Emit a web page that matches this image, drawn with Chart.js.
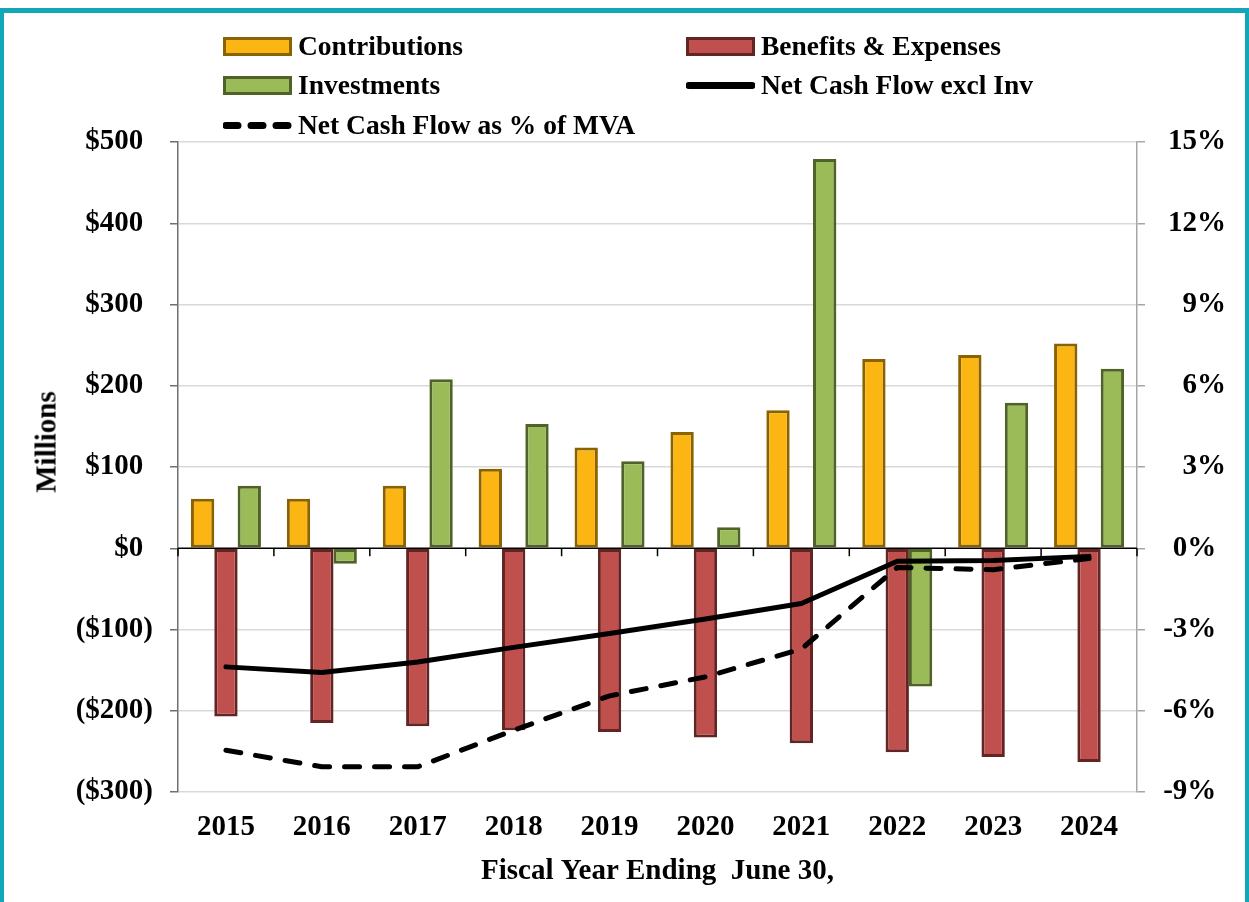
<!DOCTYPE html>
<html>
<head>
<meta charset="utf-8">
<script src="https://cdn.jsdelivr.net/npm/chart.js@4.4.1/dist/chart.umd.min.js"></script>
<style>
  html, body { margin: 0; padding: 0; background: #fff; }
  body { width: 1249px; height: 902px; position: relative; overflow: hidden; font-family: 'Liberation Serif', 'Times New Roman', serif; }
  #c { position: absolute; left: 0; top: 0; }
  #frame { position: absolute; left: 0; top: 8px; width: 1249px; height: 894px; box-sizing: border-box;
           border-top: 5px solid #11a7b8; border-left: 4px solid #11a7b8; border-right: 4px solid #11a7b8; pointer-events: none; }
  .lg { position: absolute; display: flex; align-items: center; font-weight: bold; font-size: 27.5px; color: #000; white-space: nowrap; height: 34px; }
  .lg svg { margin-right: 6px; flex: none; }
  #ytitle { position: absolute; left: 46px; top: 442px; transform: translate(-50%, -50%) rotate(-90deg);
            font-weight: bold; font-size: 29px; white-space: nowrap; }
</style>
</head>
<body>
<canvas id="c" width="1249" height="902"></canvas>
<div id="ytitle">Millions</div>
<div id="legend"></div>
<div id="frame"></div>
<script>
// ---- data ----
const years = ['2015', '2016', '2017', '2018', '2019', '2020', '2021', '2022', '2023', '2024'];
const contributions = [61, 61, 77, 98, 124, 143, 170, 233, 238, 252];
const benefits = [-207, -215, -219, -224, -226, -233, -240, -251, -257, -263];
const investments = [77, -19, 208, 153, 107, 26, 479, -170, 179, 221];
const netCashFlow = [-146, -153, -140, -122, -105, -87, -68, -16, -15, -10];
const netPctMVA = [-7.46, -8.07, -8.07, -6.72, -5.45, -4.75, -3.72, -0.71, -0.79, -0.38];

const leftTicks = { min: -300, max: 500, step: 100 };
const rightTicks = { min: -9, max: 15, step: 3 };

const seriesLabels = ['Contributions', 'Benefits & Expenses', 'Investments', 'Net Cash Flow excl Inv', 'Net Cash Flow as % of MVA'];

const FONT = "'Liberation Serif', 'Times New Roman', serif";
Chart.defaults.font.family = FONT;
Chart.defaults.font.weight = 'bold';
Chart.defaults.color = '#000';

const zeroLine = {
  id: 'zeroLine',
  afterDatasetsDraw(chart) {
    const { ctx, chartArea, scales } = chart;
    const y0 = scales.y.getPixelForValue(0);
    const n = chart.data.labels.length;
    ctx.save();
    ctx.strokeStyle = '#000';
    ctx.lineWidth = 1.5;
    ctx.beginPath();
    ctx.moveTo(chartArea.left, y0);
    ctx.lineTo(chartArea.right, y0);
    for (let i = 0; i <= n; i++) {
      const xx = chartArea.left + i * chartArea.width / n;
      ctx.moveTo(xx, y0);
      ctx.lineTo(xx, y0 + 8);
    }
    ctx.stroke();
    ctx.restore();
  }
};

const cfg = {
  data: {
    labels: years,
    datasets: [
      { type: 'bar', label: seriesLabels[0], data: contributions, backgroundColor: '#fbb614', borderColor: '#8a6200', borderWidth: 3, borderSkipped: false, yAxisID: 'y', order: 1 },
      { type: 'bar', label: seriesLabels[1], data: benefits, backgroundColor: '#c0504d', borderColor: '#632523', borderWidth: 3, borderSkipped: false, yAxisID: 'y', order: 1 },
      { type: 'bar', label: seriesLabels[2], data: investments, backgroundColor: '#9bbb59', borderColor: '#4f6228', borderWidth: 3, borderSkipped: false, yAxisID: 'y', order: 1 },
      { type: 'line', label: seriesLabels[3], data: netCashFlow, borderColor: '#000', borderWidth: 5, pointRadius: 0, tension: 0, borderCapStyle: 'round', borderJoinStyle: 'round', yAxisID: 'y', order: 0 },
      { type: 'line', label: seriesLabels[4], data: netPctMVA, borderColor: '#000', borderWidth: 5, borderDash: [15, 15], borderCapStyle: 'round', borderJoinStyle: 'round', pointRadius: 0, tension: 0, yAxisID: 'y1', order: 0 }
    ]
  },
  options: {
    responsive: false,
    animation: false,
    events: [],
    layout: { padding: { top: 142, left: 0, right: 23, bottom: 0 } },
    datasets: { bar: { categoryPercentage: 0.73, barPercentage: 1.0 } },
    plugins: { legend: { display: false }, tooltip: { enabled: false } },
    scales: {
      x: {
        type: 'category',
        offset: true,
        grid: { display: false },
        border: { display: false },
        ticks: { font: { size: 29, weight: 'bold' }, padding: 10, maxRotation: 0, autoSkip: false },
        title: { display: true, text: 'Fiscal Year Ending  June 30,', font: { size: 29, weight: 'bold' }, padding: { top: 0, bottom: 13 } },
        afterFit(s) { s.height = 110; }
      },
      y: {
        type: 'linear', position: 'left',
        min: leftTicks.min, max: leftTicks.max,
        grid: {
          color: (c) => (c.tick && c.tick.value === 0) ? 'rgba(0,0,0,0)' : '#d9d9d9',
          lineWidth: 1.5,
          tickColor: '#6f6f6f', tickLength: 8
        },
        border: { color: '#6f6f6f', width: 1.5 },
        ticks: {
          stepSize: leftTicks.step, padding: 17,
          font: { size: 29, weight: 'bold' },
          callback: (v) => v < 0 ? '($' + Math.abs(v) + ')' : '$' + v + '\u2004'
        },
        afterFit(s) { s.width = 178; }
      },
      y1: {
        type: 'linear', position: 'right',
        min: rightTicks.min, max: rightTicks.max,
        grid: { drawOnChartArea: false, color: '#a6a6a6', tickColor: '#a6a6a6', tickLength: 8, lineWidth: 1.5 },
        border: { color: '#a6a6a6', width: 1.5 },
        ticks: {
          stepSize: rightTicks.step, padding: 14, crossAlign: 'far',
          font: { size: 29, weight: 'bold' },
          callback: (v) => v > 0 ? v + '%' : v + '%\u2004'
        },
        afterFit(s) { s.width = 89; }
      }
    }
  },
  plugins: [zeroLine]
};

const chart = new Chart(document.getElementById('c'), cfg);

// ---- HTML legend built from the datasets ----
const legendPos = [
  { left: 223, top: 46 },
  { left: 686, top: 46 },
  { left: 223, top: 85 },
  { left: 686, top: 85 },
  { left: 223, top: 125 }
];
const legend = document.getElementById('legend');
cfg.data.datasets.forEach((ds, i) => {
  const d = document.createElement('div');
  d.className = 'lg';
  d.style.left = legendPos[i].left + 'px';
  d.style.top = (legendPos[i].top - 17) + 'px';
  let sw;
  if (ds.type === 'bar') {
    sw = `<svg width="69" height="19"><rect x="1.5" y="1.5" width="66" height="16" fill="${ds.backgroundColor}" stroke="${ds.borderColor}" stroke-width="3"/></svg>`;
  } else if (ds.borderDash) {
    sw = `<svg width="69" height="19"><line x1="3" y1="9.5" x2="66" y2="9.5" stroke="#000" stroke-width="7" stroke-linecap="round" stroke-dasharray="12 13"/></svg>`;
  } else {
    sw = `<svg width="69" height="19"><line x1="3" y1="9.5" x2="66" y2="9.5" stroke="#000" stroke-width="7" stroke-linecap="round"/></svg>`;
  }
  d.innerHTML = sw + '<span></span>';
  d.querySelector('span').textContent = ds.label;
  legend.appendChild(d);
});
</script>
</body>
</html>
